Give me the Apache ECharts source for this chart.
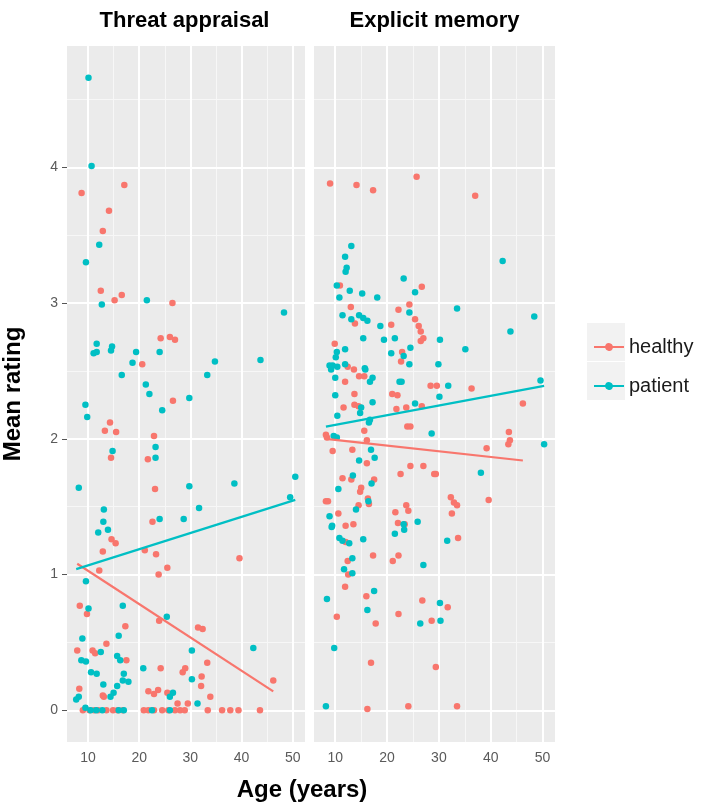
<!DOCTYPE html>
<html><head><meta charset="utf-8">
<script src="https://cdn.jsdelivr.net/npm/echarts@6/dist/echarts.min.js"></script>
<style>html,body{margin:0;padding:0;background:#fff}#chart{width:706px;height:811px}</style>
</head><body><div id="chart"></div>
<script>
const panels = ['Threat appraisal', 'Explicit memory'];
const groups = ['healthy', 'patient'];
const xTicks = [10, 20, 30, 40, 50];
const xMinor = [15, 25, 35, 45];
const yTicks = [0, 1, 2, 3, 4];
const yMinor = [0.5, 1.5, 2.5, 3.5, 4.5];

// Threat appraisal: [age, mean rating]
const threatHealthy = [
 [17.1,3.87],[8.75,3.81],[14.1,3.68],[12.9,3.53],
 [12.5,3.09],[15.2,3.02],[16.6,3.06],[26.5,3.00],
 [24.2,2.74],[26.0,2.75],[27.0,2.73],[20.6,2.55],[26.6,2.28],
 [14.3,2.12],[13.3,2.06],[15.5,2.05],[22.9,2.02],
 [14.5,1.86],[21.7,1.85],[23.1,1.63],[22.6,1.39],
 [14.6,1.26],[15.4,1.23],[12.9,1.17],[21.1,1.18],[23.3,1.15],[39.6,1.12],[25.5,1.05],[23.8,1.00],[12.2,1.03],
 [8.4,0.77],[9.8,0.71],[17.3,0.62],[23.9,0.66],[31.5,0.61],[32.4,0.60],
 [13.6,0.49],[7.9,0.44],[10.9,0.44],[11.4,0.42],[17.5,0.37],[33.3,0.35],[24.2,0.31],[29.0,0.31],[28.5,0.28],[32.2,0.25],[46.2,0.22],
 [8.3,0.16],[32.1,0.18],[13.1,0.10],[33.9,0.10],[21.8,0.14],[23.7,0.15],[22.9,0.12],[25.5,0.13],[12.9,0.11],[27.5,0.05],[29.5,0.05],
 [9.0,0],[10.3,0],[11.2,0],[12.0,0],[13.6,0],[14.9,0],[15.8,0],[16.8,0],[20.9,0],[21.8,0],[22.9,0],[24.5,0],[25.7,0],[27.0,0],[28.0,0],[28.9,0],[33.4,0],[36.2,0],[37.8,0],[39.4,0],[43.6,0]
];
const threatPatient = [
 [10.1,4.66],[10.7,4.01],[12.2,3.43],[9.6,3.30],
 [12.7,2.99],[21.5,3.02],[48.3,2.93],
 [11.7,2.70],[11.1,2.63],[11.7,2.64],[14.7,2.68],[14.5,2.65],[19.4,2.64],[24.0,2.64],[18.7,2.56],[34.8,2.57],[43.7,2.58],
 [16.6,2.47],[33.3,2.47],[21.3,2.40],[22.0,2.33],[29.8,2.30],[9.5,2.25],[9.85,2.16],[24.5,2.21],
 [23.2,1.94],[14.8,1.91],[23.2,1.86],
 [8.2,1.64],[29.8,1.65],[38.6,1.67],[50.5,1.72],[49.5,1.57],
 [13.1,1.48],[31.7,1.49],[13.0,1.39],[24.0,1.41],[28.7,1.41],[12.0,1.31],[13.9,1.33],
 [9.6,0.95],[10.1,0.75],[16.8,0.77],[25.4,0.69],
 [8.9,0.53],[16.0,0.55],[42.3,0.46],[12.5,0.43],[8.7,0.37],[9.6,0.36],[30.3,0.44],[15.7,0.40],[16.3,0.37],[20.8,0.31],
 [10.6,0.28],[11.7,0.27],[17.0,0.27],[30.3,0.23],[13.0,0.19],[16.8,0.22],[17.9,0.21],[15.7,0.18],
 [15.0,0.13],[14.4,0.10],[8.2,0.10],[7.7,0.08],[26.0,0.10],[26.6,0.13],[31.4,0.05],
 [10.5,0],[11.6,0],[12.8,0],[16.0,0],[17.0,0],[22.5,0],[26.0,0],[9.5,0.02]
];
// Explicit memory: [age, mean rating]
const memoryHealthy = [
 [9.0,3.88],[14.1,3.87],[17.3,3.83],[25.7,3.93],[37.0,3.79],
 [10.9,3.13],[26.7,3.12],[13.0,2.97],[24.3,2.99],[22.2,2.95],[13.8,2.85],[25.4,2.88],[26.1,2.83],[26.5,2.79],[27.0,2.74],[26.5,2.72],[20.8,2.84],
 [9.9,2.70],[22.9,2.64],[22.7,2.57],[12.4,2.53],[13.6,2.51],[11.9,2.42],[14.6,2.46],[15.6,2.46],[28.4,2.39],[29.6,2.39],[36.3,2.37],
 [13.7,2.33],[21.0,2.33],[22.0,2.32],[11.6,2.23],[13.7,2.25],[14.5,2.24],[21.8,2.22],[23.7,2.23],[26.7,2.24],[46.2,2.26],
 [8.2,2.03],[8.4,2.01],[15.6,2.06],[23.9,2.09],[24.5,2.09],[43.5,2.05],[43.7,1.99],[43.4,1.96],[16.1,1.99],[9.5,1.91],[13.3,1.92],[39.2,1.93],
 [16.1,1.82],[24.5,1.80],[27.0,1.80],[22.6,1.74],[29.1,1.74],[29.4,1.74],[11.4,1.71],[13.1,1.70],[17.5,1.70],[15.0,1.64],[14.8,1.61],
 [39.6,1.55],[32.3,1.57],[32.9,1.53],[33.5,1.51],[8.2,1.54],[8.6,1.54],[16.3,1.56],[16.5,1.52],[14.5,1.51],[23.7,1.51],[24.1,1.47],[21.6,1.46],[32.5,1.45],[10.6,1.45],
 [22.1,1.38],[23.4,1.37],[12.0,1.36],[13.5,1.37],[33.7,1.27],
 [12.0,1.24],[17.3,1.14],[21.1,1.10],[22.2,1.14],[12.4,1.10],[12.5,1.00],[11.9,0.91],[16.0,0.84],[26.8,0.81],[31.7,0.76],[10.3,0.69],[22.2,0.71],[17.8,0.64],[28.6,0.66],
 [16.9,0.35],[29.4,0.32],[16.2,0.01],[24.1,0.03],[33.5,0.03]
];
const memoryPatient = [
 [13.1,3.42],[11.9,3.34],[12.2,3.26],[12.0,3.23],[42.3,3.31],[23.2,3.18],
 [10.3,3.13],[10.8,3.04],[12.8,3.09],[15.2,3.07],[18.1,3.04],[25.4,3.08],[33.5,2.96],[11.4,2.91],[13.1,2.88],[14.6,2.91],[15.4,2.89],[16.2,2.87],[24.3,2.93],[48.4,2.90],[18.7,2.83],[43.8,2.79],
 [15.4,2.74],[19.4,2.73],[21.5,2.74],[30.2,2.73],[35.1,2.66],[10.3,2.64],[10.1,2.60],[11.9,2.66],[20.8,2.63],[23.2,2.61],[24.5,2.67],[29.9,2.55],[24.3,2.55],[9.5,2.54],[10.4,2.53],[11.9,2.55],[15.7,2.52],[8.9,2.54],[9.2,2.51],[15.8,2.51],
 [10.0,2.45],[16.7,2.42],[17.2,2.45],[22.4,2.42],[22.8,2.42],[31.8,2.39],[49.6,2.43],[10.0,2.32],[17.2,2.27],[30.1,2.31],[15.0,2.23],[25.4,2.26],[10.4,2.17],[14.8,2.19],
 [9.7,2.02],[10.3,2.01],[16.7,2.14],[16.5,2.12],[28.6,2.04],[50.3,1.96],[16.9,1.92],[17.6,1.86],[14.6,1.84],[38.1,1.75],[13.4,1.73],[17.0,1.67],[10.6,1.63],[16.4,1.54],[14.0,1.48],
 [8.9,1.43],[25.9,1.39],[9.4,1.36],[9.3,1.35],[23.2,1.37],[23.3,1.33],[21.5,1.30],[31.6,1.25],[10.8,1.27],[11.4,1.25],[12.7,1.23],[15.4,1.26],
 [27.0,1.07],[13.3,1.12],[11.7,1.04],[13.3,1.01],[8.4,0.82],[17.5,0.88],[30.2,0.79],[16.2,0.74],[26.4,0.64],[30.3,0.66],[9.8,0.46],[8.2,0.03]
];
// linear-fit endpoints
const threatFitHealthy = [[7.9,1.08],[46.2,0.14]];
const threatFitPatient = [[7.7,1.04],[50.5,1.55]];
const memoryFitHealthy = [[8.2,2.00],[46.2,1.84]];
const memoryFitPatient = [[8.2,2.09],[50.3,2.39]];

const points = [[threatHealthy, threatPatient], [memoryHealthy, memoryPatient]];
const fits = [[threatFitHealthy, threatFitPatient], [memoryFitHealthy, memoryFitPatient]];
const colors = ['#F8766D', '#00BFC4'];
const FONT = '"Liberation Sans", Arial, Helvetica, sans-serif';

const gridPos = [{left: 64, top: 46, width: 241, height: 696}, {left: 314, top: 46, width: 241, height: 696}];
const X_MIN = 5.9, X_MAX = 52.4, Y_MIN = -0.233, Y_MAX = 4.893;

const chart = echarts.init(document.getElementById('chart'), null, {renderer: 'canvas'});

const grids = gridPos.map(g => Object.assign({show: true, backgroundColor: '#EBEBEB', borderWidth: 0, containLabel: false}, g));
const xAxes = panels.map((p, i) => ({
  type: 'value', gridIndex: i, min: X_MIN, max: X_MAX,
  splitLine: {show: false}, axisLine: {show: false},
  axisTick: {show: true, customValues: xTicks, length: 5, lineStyle: {color: '#555', width: 1}},
  axisLabel: {customValues: xTicks, margin: 9, fontSize: 14, color: '#5a5a5a', fontFamily: FONT}
}));
const yAxes = panels.map((p, i) => ({
  type: 'value', gridIndex: i, min: Y_MIN, max: Y_MAX,
  splitLine: {show: false}, axisLine: {show: false},
  axisTick: {show: i === 0, customValues: yTicks, length: 5, lineStyle: {color: '#555', width: 1}},
  axisLabel: {show: i === 0, customValues: yTicks, margin: 9, fontSize: 14, color: '#5a5a5a', fontFamily: FONT},
  name: i === 0 ? 'Mean rating' : '', nameLocation: 'middle', nameGap: 42, nameRotate: 90,
  nameTextStyle: {fontSize: 24, fontWeight: 'bold', color: '#000', fontFamily: FONT}
}));

const series = [];
panels.forEach((p, i) => {
  series.push({
    type: 'scatter', xAxisIndex: i, yAxisIndex: i, data: [], silent: true, z: 1,
    markLine: {
      z: 1, silent: true, symbol: ['none', 'none'], label: {show: false}, animation: false,
      data: [
        ...yMinor.map(v => ({yAxis: v, lineStyle: {color: '#F7F7F7', width: 1, type: 'solid'}})),
        ...xMinor.map(v => ({xAxis: v, lineStyle: {color: '#F7F7F7', width: 1, type: 'solid'}})),
        ...yTicks.map(v => ({yAxis: v, lineStyle: {color: '#FFFFFF', width: 2, type: 'solid'}})),
        ...xTicks.map(v => ({xAxis: v, lineStyle: {color: '#FFFFFF', width: 2, type: 'solid'}}))
      ],
      emphasis: {disabled: true}
    }
  });
});
panels.forEach((p, i) => {
  groups.forEach((g, k) => {
    series.push({
      name: g, type: 'scatter', xAxisIndex: i, yAxisIndex: i, data: points[i][k],
      symbolSize: 6.5, itemStyle: {color: colors[k], opacity: 1}, z: 3, silent: true
    });
  });
});
panels.forEach((p, i) => {
  groups.forEach((g, k) => {
    series.push({
      name: g, type: 'line', xAxisIndex: i, yAxisIndex: i, data: fits[i][k],
      showSymbol: false, symbol: 'none', lineStyle: {color: colors[k], width: 2.2}, itemStyle: {color: colors[k]}, z: 4, silent: true
    });
  });
});

const keyIcon = 'path://M0,4L11.13,4A4,4,0,0,1,18.87,4L30,4L30,6L18.87,6A4,4,0,0,1,11.13,6L0,6Z';

chart.setOption({
  animation: false,
  backgroundColor: '#FFFFFF',
  grid: grids, xAxis: xAxes, yAxis: yAxes, series: series,
  legend: {
    orient: 'vertical', left: 589, top: 332, itemWidth: 30, itemHeight: 8, itemGap: 19, itemTextGap: 13,
    selectedMode: false,
    data: groups.map(g => ({name: g, icon: keyIcon})),
    textStyle: {fontSize: 20, color: '#1a1a1a', fontFamily: FONT, lineHeight: 20}
  },
  graphic: [
    {type: 'rect', shape: {x: 587, y: 323, width: 38, height: 38}, style: {fill: '#F2F2F2'}, z: -1, silent: true},
    {type: 'rect', shape: {x: 587, y: 362, width: 38, height: 38}, style: {fill: '#F2F2F2'}, z: -1, silent: true},
    {type: 'text', x: 184.5, y: 21, style: {text: panels[0], font: 'bold 22px ' + FONT, fill: '#000', align: 'center', verticalAlign: 'middle'}},
    {type: 'text', x: 434.5, y: 21, style: {text: panels[1], font: 'bold 22px ' + FONT, fill: '#000', align: 'center', verticalAlign: 'middle'}},
    {type: 'text', x: 302, y: 790, style: {text: 'Age (years)', font: 'bold 24px ' + FONT, fill: '#000', align: 'center', verticalAlign: 'middle'}}
  ]
});
</script></body></html>
